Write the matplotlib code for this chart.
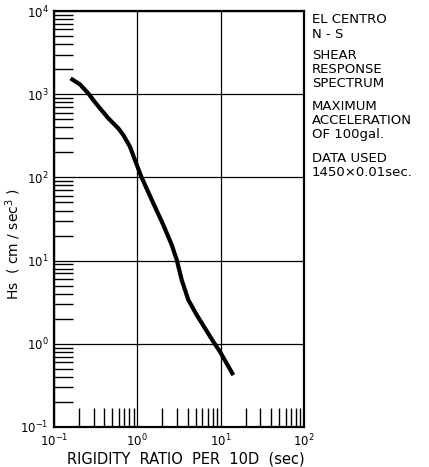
import numpy as np
import matplotlib
matplotlib.use("Agg")
import matplotlib.pyplot as plt
from matplotlib.ticker import LogLocator, NullFormatter

plt.rcParams['font.family'] = ['DejaVu Sans']

# data
rigidity = [0.158, 0.205, 0.258, 0.296, 0.356, 0.449, 0.592, 0.679, 0.817, 0.938,
            1.12, 1.556, 2.05, 2.59, 2.97, 3.41, 4.09, 5.16, 8.17, 9.84, 14.2]
hs = [1550, 1312, 1023, 851, 676, 513, 388, 323, 233, 161,
      101, 48.8, 26.8, 15.4, 10.2, 5.85, 3.37, 2.22, 1.06, 0.80, 0.42]

x_ticks = [0.1, 1, 10, 100]
x_labels = ['$10^{-1}$', '$10^{0}$', '$10^{1}$', '$10^{2}$']
y_ticks = [0.1, 1, 10, 100, 1000, 10000]
y_labels = ['$10^{-1}$', '$10^{0}$', '$10^{1}$', '$10^{2}$', '$10^{3}$', '$10^{4}$']

note_lines = ["EL CENTRO", "N - S",
              "SHEAR", "RESPONSE", "SPECTRUM",
              "MAXIMUM", "ACCELERATION", "OF 100gal.",
              "DATA USED", "1450\u00d70.01sec."]
note_base = [23, 37.5, 59, 73, 87, 110, 124, 138, 162, 176]  # baseline, px from top

W, H = 429, 467
fig = plt.figure(figsize=(W / 100, H / 100), dpi=100)
ax = fig.add_axes([54 / W, 1 - 427 / H, 250 / W, 416 / H])

ax.plot(rigidity, hs, color='black', linewidth=3.0,
        solid_capstyle='butt', solid_joinstyle='round')

ax.set_xscale('log')
ax.set_yscale('log')
ax.set_xlim(0.1, 100)
ax.set_ylim(0.1, 10000)

ax.set_xticks(x_ticks)
ax.set_xticklabels(x_labels, fontsize=8.5)
ax.set_yticks(y_ticks)
ax.set_yticklabels(y_labels, fontsize=8.5)
ax.xaxis.set_minor_locator(LogLocator(base=10, subs=np.arange(2, 10)))
ax.yaxis.set_minor_locator(LogLocator(base=10, subs=np.arange(2, 10)))
ax.xaxis.set_minor_formatter(NullFormatter())
ax.yaxis.set_minor_formatter(NullFormatter())
ax.tick_params(which='major', length=0, pad=4)
ax.tick_params(which='minor', direction='in', length=14, width=1.0)

ax.grid(True, which='major', color='black', linewidth=0.9)
for s in ax.spines.values():
    s.set_linewidth(1.6)

ax.set_xlabel("RIGIDITY  RATIO  PER  10D  (sec)", fontsize=10.5)
ax.xaxis.set_label_coords(0.528, -0.058)
ax.set_ylabel("Hs  ( cm / sec$^{3}$ )", fontsize=10)
ax.yaxis.set_label_coords(-0.125, 0.44)

for txt, b in zip(note_lines, note_base):
    fig.text(312 / W, 1 - b / H, txt, fontsize=9.5, va='baseline', ha='left')

fig.savefig("out.png", dpi=100)
